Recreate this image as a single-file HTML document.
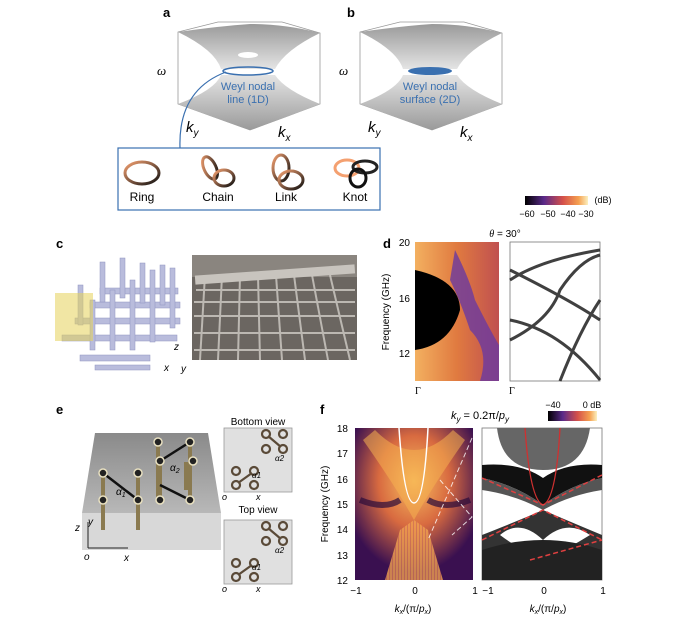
<!DOCTYPE html>
<html><head><meta charset="utf-8"><style>
body{margin:0;background:#fff;width:674px;height:623px;overflow:hidden}
svg{display:block;font-family:"Liberation Sans",sans-serif}
</style></head><body>
<svg width="674" height="623" viewBox="0 0 674 623" xmlns="http://www.w3.org/2000/svg">
<defs>
<linearGradient id="gs" x1="0" y1="0" x2="0" y2="1"><stop offset="0" stop-color="#9a9a9a"/><stop offset="1" stop-color="#e4e4e4"/></linearGradient>
<linearGradient id="gs2" x1="0" y1="1" x2="0" y2="0"><stop offset="0" stop-color="#9a9a9a"/><stop offset="1" stop-color="#e4e4e4"/></linearGradient>
<linearGradient id="inf" x1="0" x2="1"><stop offset="0" stop-color="#000"/><stop offset=".3" stop-color="#5a2a8a"/><stop offset=".6" stop-color="#d4504a"/><stop offset=".85" stop-color="#f5a050"/><stop offset="1" stop-color="#fbf0c0"/></linearGradient>
<linearGradient id="ring" x1="0" y1="0" x2="1" y2="1"><stop offset="0" stop-color="#f4a070"/><stop offset="1" stop-color="#111"/></linearGradient>
<linearGradient id="hm1" x1="0" x2="1"><stop offset="0" stop-color="#f3b060"/><stop offset=".5" stop-color="#e07a40"/><stop offset="1" stop-color="#c05050"/></linearGradient>
<radialGradient id="hf" cx=".5" cy=".35" r=".6"><stop offset="0" stop-color="#f8c060"/><stop offset=".5" stop-color="#d86a40"/><stop offset="1" stop-color="#3a1050"/></radialGradient>
<linearGradient id="bx" x1="0" y1="0" x2="0" y2="1"><stop offset="0" stop-color="#8a8a8a"/><stop offset="1" stop-color="#b8b8b8"/></linearGradient>
<pattern id="hs" width="3" height="120" patternUnits="userSpaceOnUse"><rect width="3" height="120" fill="#f0a050"/><rect x="2" width="1" height="120" fill="#b04060" opacity=".4"/></pattern>
</defs>
<text x="163" y="17" font-size="13" font-weight="bold">a</text>
<text x="347" y="17" font-size="13" font-weight="bold">b</text>
<g id="hb">
<polygon points="178,32 218,22 282,22 320,33 320,104 250,130 178,104" fill="none" stroke="#999" stroke-width="0.8"/>
<path d="M178,32 Q220,26 250,24 Q285,24 320,33 Q285,50 275,69 L221,69 Q215,50 178,32Z" fill="url(#gs)"/>
<path d="M178,104 Q215,90 221,75 L275,75 Q285,90 320,104 Q285,118 250,130 Q215,118 178,104Z" fill="url(#gs2)"/>
</g>
<use href="#hb" x="182"/>
<ellipse cx="248" cy="55" rx="10" ry="3" fill="#fff"/>
<ellipse cx="248" cy="71" rx="25" ry="4" fill="none" stroke="#3a70b0" stroke-width="1.5"/>
<ellipse cx="430" cy="71" rx="22" ry="4" fill="#3a70b0"/>
<g font-size="11" fill="#3a70b0" text-anchor="middle">
<text x="248" y="90">Weyl nodal</text><text x="248" y="103">line (1D)</text>
<text x="430" y="90">Weyl nodal</text><text x="430" y="103">surface (2D)</text></g>
<g font-family="Liberation Serif" font-style="italic" font-size="13">
<text x="157" y="75">ω</text><text x="339" y="75">ω</text></g>
<g font-style="italic" font-size="15">
<text x="186" y="132">k<tspan font-size="10" dy="4">y</tspan></text>
<text x="278" y="137">k<tspan font-size="10" dy="4">x</tspan></text>
<text x="368" y="132">k<tspan font-size="10" dy="4">y</tspan></text>
<text x="460" y="137">k<tspan font-size="10" dy="4">x</tspan></text></g>
<path d="M226,72 Q178,90 180,148" fill="none" stroke="#3a70b0" stroke-width="1.2"/>
<rect x="118" y="148" width="262" height="62" fill="none" stroke="#3a70b0" stroke-width="1.2"/>
<ellipse cx="142" cy="173" rx="17" ry="11" fill="none" stroke="url(#ring)" stroke-width="3"/>
<ellipse cx="210" cy="168" rx="6" ry="12" transform="rotate(-25 210 168)" fill="none" stroke="url(#ring)" stroke-width="3"/>
<ellipse cx="224" cy="178" rx="10" ry="8" fill="none" stroke="url(#ring)" stroke-width="3"/>
<ellipse cx="281" cy="168" rx="8" ry="13" fill="none" stroke="url(#ring)" stroke-width="3"/>
<ellipse cx="291" cy="180" rx="12" ry="9" fill="none" stroke="url(#ring)" stroke-width="3"/>
<ellipse cx="347" cy="168" rx="12" ry="8" fill="none" stroke="#f4a070" stroke-width="3"/>
<ellipse cx="365" cy="167" rx="12" ry="6" fill="none" stroke="#222" stroke-width="3"/>
<ellipse cx="358" cy="178" rx="8" ry="9" fill="none" stroke="#111" stroke-width="3"/>
<g font-size="12" text-anchor="middle">
<text x="142" y="201">Ring</text><text x="218" y="201">Chain</text><text x="286" y="201">Link</text><text x="355" y="201">Knot</text></g>
<!-- c -->
<text x="56" y="248" font-size="13" font-weight="bold">c</text>
<g fill="#b9bcdc" stroke="#9094c0" stroke-width="0.5">
<rect x="62" y="335" width="115" height="6"/><rect x="75" y="318" width="105" height="6"/><rect x="90" y="302" width="90" height="6"/><rect x="100" y="288" width="78" height="6"/>
<rect x="90" y="300" width="5" height="50"/><rect x="110" y="290" width="5" height="60"/><rect x="130" y="280" width="5" height="70"/><rect x="150" y="270" width="5" height="72"/>
<rect x="100" y="262" width="5" height="40"/><rect x="120" y="258" width="5" height="40"/><rect x="140" y="263" width="5" height="40"/><rect x="160" y="265" width="5" height="40"/>
<rect x="78" y="285" width="5" height="40"/><rect x="170" y="268" width="5" height="60"/>
<rect x="80" y="355" width="70" height="6"/><rect x="95" y="365" width="55" height="5"/></g>
<rect x="55" y="293" width="38" height="48" fill="#e6d25a" opacity=".55"/>
<g font-size="10" font-style="italic"><text x="174" y="350">z</text><text x="164" y="371">x</text><text x="181" y="372">y</text></g>
<rect x="192" y="255" width="165" height="105" fill="#6b6661"/>
<rect x="192" y="255" width="165" height="22" fill="#8a857f"/>
<g stroke="#d8d4ce" stroke-width="2" opacity=".75">
<line x1="196" y1="290" x2="355" y2="290"/><line x1="194" y1="302" x2="355" y2="302"/><line x1="194" y1="316" x2="355" y2="316"/><line x1="194" y1="333" x2="355" y2="333"/><line x1="194" y1="350" x2="355" y2="350"/>
<line x1="205" y1="275" x2="200" y2="360"/><line x1="222" y1="275" x2="218" y2="360"/><line x1="240" y1="275" x2="238" y2="360"/><line x1="258" y1="275" x2="260" y2="360"/><line x1="276" y1="275" x2="282" y2="360"/><line x1="294" y1="275" x2="305" y2="360"/><line x1="312" y1="275" x2="328" y2="360"/><line x1="330" y1="275" x2="350" y2="360"/></g>
<rect x="195" y="270" width="160" height="9" fill="#c8c4be" transform="rotate(-4 275 275)"/>
<!-- d -->
<text x="383" y="248" font-size="13" font-weight="bold">d</text>
<rect x="525" y="196" width="63" height="9" fill="url(#inf)"/>
<g font-size="9" text-anchor="middle"><text x="527" y="217">−60</text><text x="548" y="217">−50</text><text x="568" y="217">−40</text><text x="586" y="217">−30</text><text x="603" y="203">(dB)</text></g>
<text x="505" y="237" font-size="10" text-anchor="middle"><tspan font-style="italic" font-family="Liberation Serif">θ</tspan> = 30°</text>
<rect x="415" y="242" width="84" height="139" fill="url(#hm1)"/>
<path d="M415,270 Q460,280 460,310 Q450,345 415,350Z" fill="#000"/>
<path d="M455,250 Q470,280 475,300 Q490,330 499,345 L499,381 L480,381 Q490,350 470,330 Q460,300 450,280Z" fill="#6a3aa0" opacity=".8"/>
<rect x="510" y="242" width="90" height="139" fill="#fff" stroke="#777" stroke-width="0.8"/>
<g fill="none" stroke="#111" stroke-width="3" opacity=".8">
<path d="M510,280 Q540,260 600,250"/><path d="M510,340 Q550,320 560,290 Q580,260 600,255"/>
<path d="M510,320 Q560,330 600,380"/><path d="M510,270 Q570,300 600,320"/><path d="M560,381 Q580,330 600,300"/></g>
<g font-size="10" text-anchor="end"><text x="410" y="246">20</text><text x="410" y="302">16</text><text x="410" y="357">12</text></g>
<text transform="translate(389,312) rotate(-90)" font-size="10" text-anchor="middle">Frequency (GHz)</text>
<g font-family="Liberation Serif" font-size="10"><text x="415" y="394">Γ</text><text x="509" y="394">Γ</text></g>
<!-- e -->
<text x="56" y="414" font-size="13" font-weight="bold">e</text>
<polygon points="95,433 208,433 221,513 82,513" fill="url(#bx)"/>
<rect x="82" y="513" width="139" height="37" fill="#d8d8d8"/>
<g stroke="#8a7a50" stroke-width="4"><line x1="103" y1="473" x2="103" y2="530"/><line x1="138" y1="473" x2="138" y2="530"/><line x1="158" y1="443" x2="158" y2="500"/><line x1="190" y1="443" x2="190" y2="500"/><line x1="160" y1="462" x2="160" y2="500"/><line x1="186" y1="462" x2="186" y2="490"/></g>
<g stroke="#111" stroke-width="2.5"><line x1="103" y1="473" x2="138" y2="500"/><line x1="160" y1="461" x2="190" y2="442"/><line x1="160" y1="485" x2="190" y2="500"/></g>
<g fill="#222" stroke="#e8e0c0" stroke-width="1.5"><circle cx="103" cy="473" r="4"/><circle cx="138" cy="473" r="4"/><circle cx="103" cy="500" r="4"/><circle cx="138" cy="500" r="4"/><circle cx="158" cy="442" r="4"/><circle cx="190" cy="442" r="4"/><circle cx="160" cy="461" r="4"/><circle cx="193" cy="461" r="4"/><circle cx="160" cy="500" r="4"/><circle cx="190" cy="500" r="4"/></g>
<g font-size="10" font-style="italic"><text x="116" y="495">α<tspan font-size="7" dy="2">1</tspan></text><text x="170" y="471">α<tspan font-size="7" dy="2">2</tspan></text>
<text x="75" y="531">z</text><text x="88" y="525">y</text><text x="84" y="560">o</text><text x="124" y="561">x</text></g>
<path d="M88,548 L88,522 M88,548 L128,548" stroke="#222" fill="none"/>
<text x="258" y="425" font-size="10" text-anchor="middle">Bottom view</text>
<text x="258" y="513" font-size="10" text-anchor="middle">Top view</text>
<g id="pv"><rect x="224" y="428" width="68" height="64" fill="#e0e0e0" stroke="#999" stroke-width="0.8"/>
<g fill="none" stroke="#5a4a38" stroke-width="2.2"><circle cx="236" cy="471" r="4"/><circle cx="254" cy="471" r="4"/><circle cx="236" cy="485" r="4"/><circle cx="254" cy="485" r="4"/><line x1="238" y1="483" x2="252" y2="473"/>
<circle cx="266" cy="434" r="4"/><circle cx="283" cy="434" r="4"/><circle cx="266" cy="449" r="4"/><circle cx="283" cy="449" r="4"/><line x1="268" y1="436" x2="281" y2="447"/></g>
<text x="252" y="478" font-size="8" font-style="italic">α1</text><text x="275" y="461" font-size="8" font-style="italic">α2</text></g>
<use href="#pv" y="92"/>
<g font-size="9" font-style="italic"><text x="222" y="500">o</text><text x="256" y="500">x</text><text x="222" y="592">o</text><text x="256" y="592">x</text></g>
<!-- f -->
<text x="320" y="414" font-size="13" font-weight="bold">f</text>
<rect x="548" y="411" width="49" height="10" fill="url(#inf)"/>
<g font-size="9" text-anchor="middle"><text x="553" y="408">−40</text><text x="592" y="408">0 dB</text></g>
<text x="480" y="419" font-size="11" text-anchor="middle" font-style="italic">k<tspan font-size="8" dy="3">y</tspan><tspan dy="-3" font-style="normal"> = 0.2π/</tspan>p<tspan font-size="8" dy="3">y</tspan></text>
<rect x="355" y="428" width="118" height="152" fill="#2a0c3a"/>
<rect x="355" y="428" width="118" height="152" fill="url(#hf)"/>
<path d="M375,430 Q414,470 453,430 L465,440 Q430,490 414,520 Q398,490 363,440Z" fill="#f5b050" opacity=".55"/>
<path d="M385,580 L400,530 L414,520 L428,530 L443,580Z" fill="url(#hs)" opacity=".8"/>
<path d="M360,500 Q385,510 400,500 M428,500 Q445,510 470,500" stroke="#2a0c3a" stroke-width="6" fill="none" opacity=".7"/>
<path d="M399,428 Q404,503 414,503 Q424,503 428,428" fill="none" stroke="#fff" stroke-width="1.5"/>
<path d="M472,438 L428,540 M440,480 L472,517 L452,535" stroke="#fff" stroke-dasharray="5,3" fill="none" opacity=".8"/>
<rect x="482" y="428" width="120" height="152" fill="#fff" stroke="#777" stroke-width="0.8"/>
<path d="M497,428 Q502,470 543,470 Q584,470 590,428Z" fill="#666"/>
<path d="M482,465 Q520,462 543,478 Q566,462 602,465 L602,478 Q570,485 543,505 Q516,485 482,478Z" fill="#111"/>
<path d="M482,478 Q516,485 543,505 Q570,485 602,478 L602,490 Q570,495 543,510 Q516,495 482,490Z" fill="#555"/>
<path d="M482,535 Q520,520 543,510 Q566,520 602,535 L602,580 L482,580Z" fill="#333"/>
<path d="M500,535 Q520,518 543,540 Q566,518 590,535 Q566,550 543,560 Q520,550 500,535Z" fill="#fff"/>
<path d="M482,550 Q543,530 602,550 L602,580 L482,580Z" fill="#222"/>
<path d="M525,428 Q530,500 543,505 Q556,500 560,428" fill="none" stroke="#d03030" stroke-width="1.3"/>
<path d="M602,475 L543,505 L482,478 M482,540 L543,510 L602,540 M530,560 L602,540" stroke="#e04040" stroke-dasharray="5,3" fill="none" stroke-width="1.5"/>
<g font-size="10" text-anchor="end"><text x="348" y="432">18</text><text x="348" y="457">17</text><text x="348" y="483">16</text><text x="348" y="508">15</text><text x="348" y="533">14</text><text x="348" y="559">13</text><text x="348" y="584">12</text></g>
<text transform="translate(328,504) rotate(-90)" font-size="10" text-anchor="middle">Frequency (GHz)</text>
<g font-size="10" text-anchor="middle"><text x="356" y="594">−1</text><text x="415" y="594">0</text><text x="475" y="594">1</text><text x="488" y="594">−1</text><text x="544" y="594">0</text><text x="603" y="594">1</text></g>
<g font-size="10" text-anchor="middle" font-style="italic"><text x="413" y="612">k<tspan font-size="7" dy="2">x</tspan><tspan dy="-2" font-style="normal">/(π/</tspan>p<tspan font-size="7" dy="2">x</tspan><tspan dy="-2" font-style="normal">)</tspan></text>
<text x="548" y="612">k<tspan font-size="7" dy="2">x</tspan><tspan dy="-2" font-style="normal">/(π/</tspan>p<tspan font-size="7" dy="2">x</tspan><tspan dy="-2" font-style="normal">)</tspan></text></g>
</svg>
</body></html>
